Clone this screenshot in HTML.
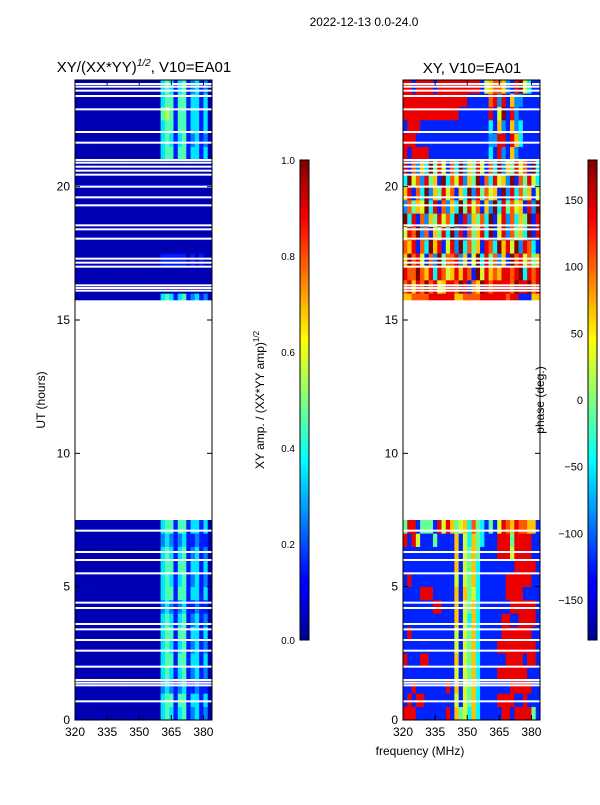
<!DOCTYPE html>
<html><head><meta charset="utf-8"><style>
body{margin:0;background:#fff;font-family:"Liberation Sans",sans-serif;}
svg text{font-family:"Liberation Sans",sans-serif;fill:#000;}
</style></head><body>
<svg id="fig" width="600" height="800" xmlns="http://www.w3.org/2000/svg">
<defs>
<linearGradient id="jetg" x1="0" y1="1" x2="0" y2="0">
<stop offset="0" stop-color="#00008f"/><stop offset="0.11" stop-color="#0000ff"/><stop offset="0.125" stop-color="#0000ff"/>
<stop offset="0.375" stop-color="#00ffff"/><stop offset="0.5" stop-color="#80ff80"/><stop offset="0.625" stop-color="#ffff00"/>
<stop offset="0.875" stop-color="#ff0000"/><stop offset="1" stop-color="#800000"/>
</linearGradient>
</defs>
<text x="364" y="26" font-size="12" text-anchor="middle">2022-12-13 0.0-24.0</text>
<text x="144" y="72" font-size="15" text-anchor="middle">XY/(XX*YY)<tspan font-size="10" dy="-6" font-style="italic">1/2</tspan><tspan dy="6">, V10=EA01</tspan></text>
<text x="472" y="73" font-size="15" text-anchor="middle">XY, V10=EA01</text>
<g id="left"></g>
<g id="right"></g>
<rect x="75" y="80" width="137" height="640" fill="none" stroke="#000"/>
<rect x="403" y="80" width="137" height="640" fill="none" stroke="#000"/>
<g id="ticks"></g>
<text transform="translate(45,400) rotate(-90)" font-size="12" text-anchor="middle">UT (hours)</text>
<text x="420" y="755" font-size="12" text-anchor="middle">frequency (MHz)</text>
<rect x="300" y="160" width="9" height="480" fill="url(#jetg)" stroke="#000" stroke-width="1"/>
<rect x="588" y="160" width="9" height="480" fill="url(#jetg)" stroke="#000" stroke-width="1"/>
<text transform="translate(264,400) rotate(-90)" font-size="12" text-anchor="middle">XY amp. / (XX*YY amp)<tspan font-size="8" dy="-5">1/2</tspan></text>
<text transform="translate(544,400) rotate(-90)" font-size="12" text-anchor="middle">phase (deg.)</text>
</svg>
<script>
const yTicks=[0,5,10,15,20];
const xTicks=[320,335,350,365,380];
const cb1Ticks=["0.0","0.2","0.4","0.6","0.8","1.0"];
const cb2Ticks=[-150,-100,-50,0,50,100,150];
const rowStart=[0,0.5,1,1.5,2,2.5,3,3.5,4,4.5,5,5.5,6,6.5,7,15.75,16,16.5,17,17.5,18,18.5,19,19.5,20,20.5,21,21.5,22,22.5,23,23.5];
const rowEnd=[0.5,1,1.5,2,2.5,3,3.5,4,4.5,5,5.5,6,6.5,7,7.5,16,16.5,17,17.5,18,18.5,19,19.5,20,20.5,21,21.5,22,22.5,23,23.5,24];
const ampRows=[
"00000000000000000000343134123120","00000000000000000000344144133130","00000000000000000000232123112110",
"00000000000000000000343134123120","00000000000000000000344144133130","00000000000000000000343134123120",
"00000000000000000000344144133130","00000000000000000000343134123120","00000000000000000000232123112110",
"00000000000000000000344144133130","00000000000000000000343134123120","00000000000000000000344144133130",
"00000000000000000000343134123120","00000000000000000000232123112110","00000000000000000000344144133130",
"00000000000000000000343134123120","00000000000000000000000000000000","00000000000000000000000000000000",
"00000000000000000000111111010100","00000000000000000000000000000000","00000000000000000000000000000000",
"00000000000000000000000000000000","00000000000000000000000000000000","00000000000000000000000000000000",
"00000000000000000000000000000000","00000000000000000000000000000000","00000000000000000000344144133130",
"00000000000000000000343134123120","00000000000000000000344144133130","00000000000000000000454144133130",
"00000000000000000000344144133130","00000000000000000000343134123120"];
const phaseRows=[
"88811111118164536311111881888841","18188111111151546311118888118111","11811111118161546311111118888811",
"11111111111151546311118888888111","81118811111161546311111188881881","11111111111151546311118888888881",
"18111111111151546311111888888811","11111111111161536311111881188881","11111118811161546311111118888881",
"11118881111161645311111188881111","18111111111151546311111188888811","11111111111161546311111111888881",
"11111111111161546411118885888811","81851114111161536431118884888811","48814441858645637431415876877661",
"66777788888866777788888878811166","78687978568879817698788887988978","87797683875686871958676887893878",
"69785172947782615938472619785746","76817396815829374618739685928731","58792716483928174683915827463918",
"93817264857391826473915827364918","27465938172639485716293847561829","68173926485716392847561928374615",
"39572846193758264917385629174853","81726394851739264851739264857193","81888811111111111111318216211111",
"88811111111111111111228818631111","18881111111111111111316216231111","88888888888881111111815918211111",
"88888888888888811111782816221111","88188881888888888815677621895311"];
const gapTimes=[0.7,1.3,1.4,1.5,2.0,2.6,3.0,3.4,3.6,4.2,4.4,5.5,6.0,6.3,7.1,16.1,16.2,16.3,17.0,17.15,17.3,18.05,18.4,18.55,19.3,19.6,20.0,20.45,20.6,20.75,20.9,21.0,21.65,22.05,22.9,23.4,23.6,23.75,23.85];

const NS="http://www.w3.org/2000/svg";
const F0=320,F1=384,T0=0,T1=24,H=640,W=137;
function yS(t){return 720-(t-T0)/(T1-T0)*H;}
function xS(x0,f){return x0+(f-F0)/(F1-F0)*W;}
function cl(v){return Math.max(0,Math.min(1,v));}
function jet(v){const r=cl(1.5-Math.abs(4*v-3)),g=cl(1.5-Math.abs(4*v-2)),b=cl(1.5-Math.abs(4*v-1));return `rgb(${Math.round(r*255)},${Math.round(g*255)},${Math.round(b*255)})`;}
function mk(tag,attrs,parent){const e=document.createElementNS(NS,tag);for(const k in attrs)e.setAttribute(k,attrs[k]);parent.appendChild(e);return e;}
function drawHeat(gid,x0,rows,scale){
  const g=document.getElementById(gid);
  for(let i=0;i<rows.length;i++){
    const s=rows[i],n=32;
    for(let c=0;c<n;c++){
      const d=s[c%s.length];const v=(parseInt(d,10)+0.5)/scale;
      const f0=F0+c*(F1-F0)/n,f1=F0+(c+1)*(F1-F0)/n;
      const r=mk('rect',{x:xS(x0,f0),y:yS(rowEnd[i]),width:xS(x0,f1)-xS(x0,f0)+0.3,height:yS(rowStart[i])-yS(rowEnd[i])+0.3,fill:jet(cl(v))},g);
      
      
    }
  }
  for(const t of gapTimes){
    const l=mk('rect',{x:x0,y:yS(t)-1,width:W,height:2,fill:'#fff'},g);
    
    
  }
}
drawHeat('left',75,ampRows,10);
drawHeat('right',403,phaseRows,9.5);
const tk=document.getElementById('ticks');
for(const x0 of [75,403]){
  for(const t of yTicks){
    const y=yS(t);
    mk('line',{x1:x0,y1:y,x2:x0+5,y2:y,stroke:'#000'},tk);
    mk('line',{x1:x0+W,y1:y,x2:x0+W-5,y2:y,stroke:'#000'},tk);
    const tx=mk('text',{x:x0-5,y:y+4,'font-size':12,'text-anchor':'end'},tk);tx.textContent=t;
    
    
  }
  for(const f of xTicks){
    const x=xS(x0,f);
    mk('line',{x1:x,y1:720,x2:x,y2:715,stroke:'#000'},tk);
    mk('line',{x1:x,y1:80,x2:x,y2:85,stroke:'#000'},tk);
    const tx=mk('text',{x:x,y:736,'font-size':12,'text-anchor':'middle'},tk);tx.textContent=f;
    
    
  }
}
cb1Ticks.forEach((lab,i)=>{
  const y=640-i*96;
  const tx=mk('text',{x:295,y:y+4,'font-size':10,'text-anchor':'end'},tk);tx.textContent=lab;
  
  
});
cb2Ticks.forEach(v=>{
  const y=640-(v+180)/360*480;
  mk('line',{x1:588,y1:y,x2:592,y2:y,stroke:'#000'},tk);
  const tx=mk('text',{x:583,y:y+4,'font-size':11,'text-anchor':'end'},tk);tx.textContent=v<0?'\u2212'+(-v):v;
  
  
});
</script>
</body></html>
